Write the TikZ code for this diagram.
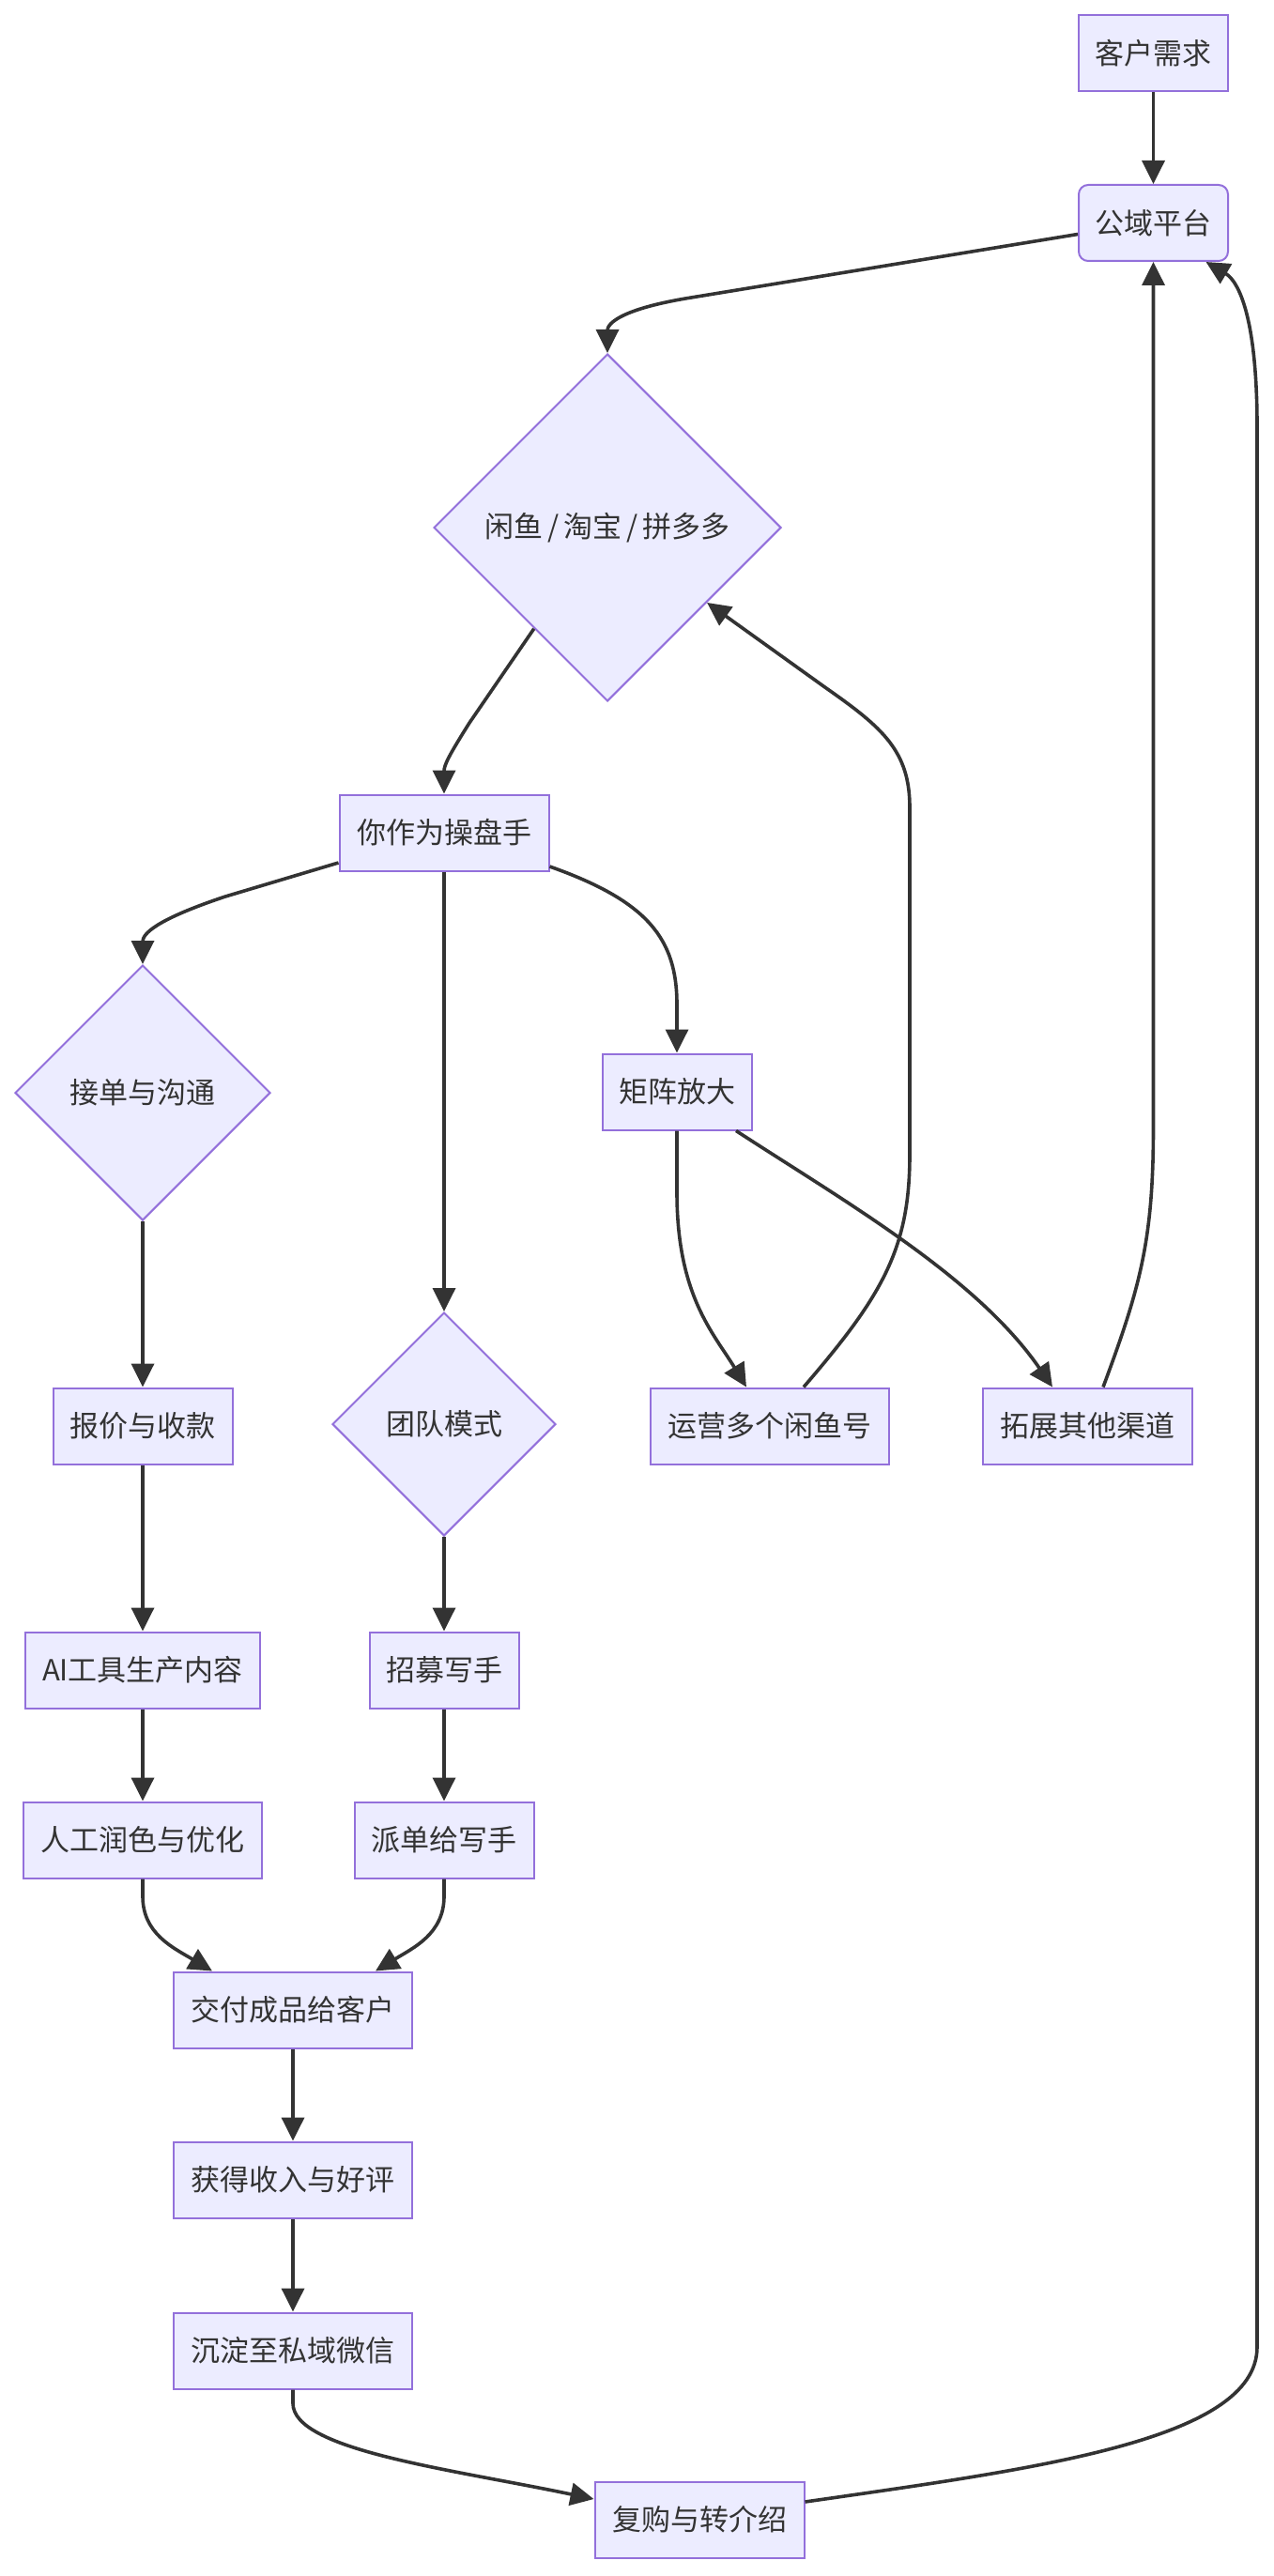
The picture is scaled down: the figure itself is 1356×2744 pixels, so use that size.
\documentclass[tikz,border=0pt]{standalone}
\usepackage{fontspec}
\setmainfont{Noto Sans CJK SC}
\usetikzlibrary{shapes.geometric,arrows.meta}
\definecolor{nodefill}{HTML}{ECECFF}
\definecolor{nodeline}{HTML}{9370DB}
\definecolor{ink}{HTML}{333333}
\begin{document}
\begin{tikzpicture}[x=0.5pt,y=-0.5pt,
  every node/.style={font=\fontsize{15.5}{18}\selectfont, text=ink},
  box/.style={rectangle, draw=nodeline, fill=nodefill, line width=1pt, minimum height=40.5pt, inner sep=0pt},
  dia/.style={diamond, draw=nodeline, fill=nodefill, line width=1pt, inner sep=0pt},
  link/.style={draw=ink, line width=1.8pt, -{Triangle[length=12.5pt,width=12pt]}}
]
\fill[white] (0,0) rectangle (1356,2744);
\useasboundingbox (0,0) rectangle (1356,2744);

\node[box, minimum width=79.5pt] (A) at (1228.5,56.5) {客户需求};
\node[box, minimum width=79.5pt, rounded corners=5pt] (B) at (1228.5,237.5) {公域平台};
\node[dia, minimum width=185pt, minimum height=185pt] (C) at (647,562) {闲鱼\,/\,淘宝\,/\,拼多多};
\node[box, minimum width=111.5pt] (D) at (473,887) {你作为操盘手};
\node[dia, minimum width=136pt, minimum height=136pt] (E) at (152,1164) {接单与沟通};
\node[box, minimum width=79.5pt] (F) at (721,1163) {矩阵放大};
\node[dia, minimum width=119pt, minimum height=119pt] (G) at (473,1517) {团队模式};
\node[box, minimum width=95.5pt] (H) at (152,1519) {报价与收款};
\node[box, minimum width=127pt] (I) at (820,1519) {运营多个闲鱼号};
\node[box, minimum width=111.5pt] (J) at (1158,1519) {拓展其他渠道};
\node[box, minimum width=125pt] (K) at (152,1779) {AI工具生产内容};
\node[box, minimum width=79.5pt] (L) at (473,1779) {招募写手};
\node[box, minimum width=127pt] (M) at (152,1960) {人工润色与优化};
\node[box, minimum width=95.5pt] (N) at (473,1960) {派单给写手};
\node[box, minimum width=127pt] (O) at (312,2141) {交付成品给客户};
\node[box, minimum width=127pt] (P) at (312,2322) {获得收入与好评};
\node[box, minimum width=127pt] (Q) at (312,2504) {沉淀至私域微信};
\node[box, minimum width=111.5pt] (R) at (745,2684) {复购与转介绍};

\draw[link] (A.south) -- (B.north);
\draw[link] ([yshift=-6pt]B.west) -- (730,318) .. controls (660,330) and (647,345) .. (C.north);
\draw[link] (C.234) -- (500,770) .. controls (478,805) and (473,815) .. (D.north);
\draw[link] ([yshift=-16pt]D.west) -- (240,955) .. controls (165,980) and (152,995) .. (E.north);
\draw[link] (D.south) -- (G.north);
\draw[link] ([yshift=-18pt]D.east) .. controls (690,960) and (721,1000) .. (721,1070) -- (F.north);
\draw[link] (E.south) -- (H.north);
\draw[link] (F.south) -- (721,1270) .. controls (721,1380) and (760,1420) .. ([xshift=-12.5pt]I.north);
\draw[link] ([xshift=31.5pt]F.south) .. controls (900,1280) and (1040,1360) .. ([xshift=-18.5pt]J.north);
\draw[link] ([xshift=18pt]I.north) .. controls (940,1380) and (969,1330) .. (969,1230) -- (969,860) .. controls (969,800) and (940,775) .. (880,733) -- (C.323);
\draw[link] ([xshift=8.5pt]J.north) .. controls (1215,1370) and (1228.5,1320) .. (1228.5,1200) -- (B.south);
\draw[link] (H.south) -- (K.north);
\draw[link] (G.south) -- (L.north);
\draw[link] (K.south) -- (M.north);
\draw[link] (L.south) -- (N.north);
\draw[link] (M.south) -- (152,2020) .. controls (152,2060) and (185,2075) .. ([xshift=-43pt]O.north);
\draw[link] (N.south) -- (473,2020) .. controls (473,2060) and (440,2075) .. ([xshift=44pt]O.north);
\draw[link] (O.south) -- (P.north);
\draw[link] (P.south) -- (Q.north);
\draw[link] (Q.south) -- (312,2560) .. controls (312,2610) and (480,2630) .. ([yshift=11pt]R.west);
\draw[link] ([yshift=9.5pt]R.east) .. controls (1100,2630) and (1339,2600) .. (1339,2500) -- (1339,455) .. controls (1339,340) and (1320,300) .. ([xshift=28pt]B.south);
\end{tikzpicture}
\end{document}
